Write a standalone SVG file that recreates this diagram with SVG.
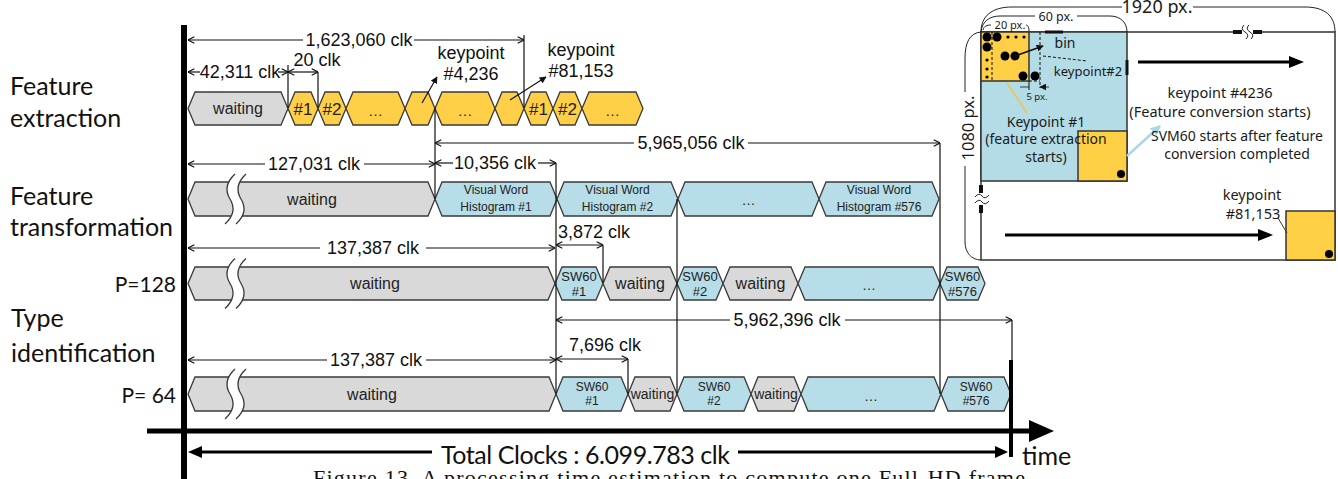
<svg xmlns="http://www.w3.org/2000/svg" width="1338" height="479" viewBox="0 0 1338 479">
<style>
.lbl{font-family:Lato,"Liberation Sans",sans-serif;font-size:25px;fill:#111}
.plb{font-family:Lato,"Liberation Sans",sans-serif;font-size:21px;fill:#111;text-anchor:end}
.dim{font-family:"Liberation Sans",Arial,sans-serif;font-size:18px;fill:#111;text-anchor:middle}
.ht{font-family:"Liberation Sans",Arial,sans-serif;fill:#222;text-anchor:middle}
.g{fill:#d9d9d9;stroke:#3a3a3a;stroke-width:1.3}
.y{fill:#ffcf48;stroke:#3a3a3a;stroke-width:1.3}
.b{fill:#b7dde8;stroke:#3a3a3a;stroke-width:1.3}
.dl{stroke:#111;stroke-width:1.2;fill:none}
.it{font-family:"Noto Sans","DejaVu Sans",sans-serif;fill:#1a1a1a;text-anchor:middle}
.arc{fill:none;stroke:#222;stroke-width:1}
</style>
<defs>
<marker id="oa" viewBox="0 0 10 10" refX="10" refY="5" markerWidth="7" markerHeight="8" orient="auto-start-reverse" markerUnits="userSpaceOnUse"><path d="M1,0.5 L10,5 L1,9.5" fill="none" stroke="#111" stroke-width="1.6"/></marker>
<marker id="fs" viewBox="0 0 10 10" refX="9" refY="5" markerWidth="7" markerHeight="7" orient="auto" markerUnits="userSpaceOnUse"><path d="M0,0 L10,5 L0,10 Z" fill="#111"/></marker>
<marker id="fb" viewBox="0 0 10 10" refX="9" refY="5" markerWidth="10" markerHeight="10" orient="auto" markerUnits="userSpaceOnUse"><path d="M0,0 L10,5 L0,10 Z" fill="#a8d8e8"/></marker>
<g id="brk">
<path d="M5,-25 Q-8,-13 0,0 Q8,13 -5,25 L6,25 Q19,13 11,0 Q3,-13 16,-25 Z" fill="#fff"/>
<path d="M5,-25 Q-8,-13 0,0 Q8,13 -5,25" fill="none" stroke="#3a3a3a" stroke-width="1.3"/>
<path d="M16,-25 Q3,-13 11,0 Q19,13 6,25" fill="none" stroke="#3a3a3a" stroke-width="1.3"/>
</g>
</defs>
<rect width="1338" height="479" fill="#fff"/>

<g id="labels">
<text class="lbl" x="10" y="95">Feature</text>
<text class="lbl" x="10" y="127">extraction</text>
<text class="lbl" x="10" y="205">Feature</text>
<text class="lbl" x="10" y="236">transformation</text>
<text class="plb" x="176" y="292">P=128</text>
<text class="lbl" x="11" y="327">Type</text>
<text class="lbl" x="11" y="362">identification</text>
<text class="plb" x="176" y="403">P= 64</text>
</g>

<g id="row1">
<g id="r1-wait"><polygon class="g" points="188,108.5 195,92 281,92 288,108.5 281,125 195,125"/><text class="ht" x="238" y="114" font-size="16">waiting</text></g>
<g id="r1-k1"><polygon class="y" points="288,108.5 295,92 311,92 318,108.5 311,125 295,125"/><text class="ht" x="303" y="115" font-size="17">#1</text></g>
<g id="r1-k2"><polygon class="y" points="318,108.5 325,92 339,92 346,108.5 339,125 325,125"/><text class="ht" x="332" y="115" font-size="17">#2</text></g>
<g id="r1-d1"><polygon class="y" points="346,108.5 353,92 398,92 405,108.5 398,125 353,125"/><text class="ht" x="375.5" y="116" font-size="15">…</text></g>
<g id="r1-k4236"><polygon class="y" points="405,108.5 412,92 428,92 435,108.5 428,125 412,125"/></g>
<g id="r1-d2"><polygon class="y" points="435,108.5 442,92 488,92 495,108.5 488,125 442,125"/><text class="ht" x="465" y="116" font-size="15">…</text></g>
<g id="r1-k81153"><polygon class="y" points="495,108.5 502,92 517,92 524,108.5 517,125 502,125"/></g>
<g id="r1-n1"><polygon class="y" points="524,108.5 531,92 546,92 553,108.5 546,125 531,125"/><text class="ht" x="538.5" y="115" font-size="17">#1</text></g>
<g id="r1-n2"><polygon class="y" points="553,108.5 560,92 575,92 582,108.5 575,125 560,125"/><text class="ht" x="567.5" y="115" font-size="17">#2</text></g>
<g id="r1-d3"><polygon class="y" points="582,108.5 589,92 636,92 643,108.5 636,125 589,125"/><text class="ht" x="612.5" y="116" font-size="15">…</text></g>
</g>

<g id="row2">
<g id="r2-wait"><polygon class="g" points="188,199 195,182 428,182 435,199 428,216 195,216"/><use href="#brk" x="230" y="199"/><text class="ht" x="312" y="205" font-size="16">waiting</text></g>
<g id="r2-h1"><polygon class="b" points="435,199 442,182 550,182 557,199 550,216 442,216"/><text class="ht" x="496" y="194" font-size="12">Visual Word</text><text class="ht" x="496" y="211" font-size="12">Histogram #1</text></g>
<g id="r2-h2"><polygon class="b" points="557,199 564,182 671,182 678,199 671,216 564,216"/><text class="ht" x="617.5" y="194" font-size="12">Visual Word</text><text class="ht" x="617.5" y="211" font-size="12">Histogram #2</text></g>
<g id="r2-d"><polygon class="b" points="678,199 685,182 812,182 819,199 812,216 685,216"/><text class="ht" x="748.5" y="205" font-size="14">…</text></g>
<g id="r2-h576"><polygon class="b" points="819,199 826,182 932,182 939,199 932,216 826,216"/><text class="ht" x="879" y="194" font-size="12">Visual Word</text><text class="ht" x="879" y="211" font-size="12">Histogram #576</text></g>
</g>

<g id="row3">
<g id="r3-wait"><polygon class="g" points="188,283.5 195,267 548,267 555,283.5 548,300 195,300"/><use href="#brk" x="230" y="283.5"/><text class="ht" x="375" y="289" font-size="16">waiting</text></g>
<g id="r3-s1"><polygon class="b" points="555,283.5 562,267 596,267 603,283.5 596,300 562,300"/><text class="ht" x="579" y="281" font-size="13">SW60</text><text class="ht" x="579" y="296" font-size="13">#1</text></g>
<g id="r3-w1"><polygon class="g" points="603,283.5 610,267 670,267 677,283.5 670,300 610,300"/><text class="ht" x="640" y="289" font-size="16">waiting</text></g>
<g id="r3-s2"><polygon class="b" points="677,283.5 684,267 716,267 723,283.5 716,300 684,300"/><text class="ht" x="700" y="281" font-size="13">SW60</text><text class="ht" x="700" y="296" font-size="13">#2</text></g>
<g id="r3-w2"><polygon class="g" points="723,283.5 730,267 791,267 798,283.5 791,300 730,300"/><text class="ht" x="760.5" y="289" font-size="16">waiting</text></g>
<g id="r3-d"><polygon class="b" points="798,283.5 805,267 933,267 940,283.5 933,300 805,300"/><text class="ht" x="869" y="290" font-size="14">…</text></g>
<g id="r3-s576"><polygon class="b" points="940,283.5 947,267 978,267 985,283.5 978,300 947,300"/><text class="ht" x="962.5" y="281" font-size="13">SW60</text><text class="ht" x="962.5" y="296" font-size="13">#576</text></g>
</g>

<g id="row4">
<g id="r4-wait"><polygon class="g" points="188,394 195,377 549,377 556,394 549,411 195,411"/><use href="#brk" x="230" y="394"/><text class="ht" x="372" y="400" font-size="16">waiting</text></g>
<g id="r4-s1"><polygon class="b" points="556,394 563,377 621,377 628,394 621,411 563,411"/><text class="ht" x="592" y="391" font-size="12">SW60</text><text class="ht" x="592" y="405" font-size="12">#1</text></g>
<g id="r4-w1"><polygon class="g" points="628,394 635,377 670,377 677,394 670,411 635,411"/><text class="ht" x="652.5" y="399" font-size="14">waiting</text></g>
<g id="r4-s2"><polygon class="b" points="677,394 684,377 744,377 751,394 744,411 684,411"/><text class="ht" x="714" y="391" font-size="12">SW60</text><text class="ht" x="714" y="405" font-size="12">#2</text></g>
<g id="r4-w2"><polygon class="g" points="751,394 758,377 794,377 801,394 794,411 758,411"/><text class="ht" x="776" y="399" font-size="14">waiting</text></g>
<g id="r4-d"><polygon class="b" points="801,394 808,377 934,377 941,394 934,411 808,411"/><text class="ht" x="871" y="401" font-size="14">…</text></g>
<g id="r4-s576"><polygon class="b" points="941,394 948,377 1004,377 1011,394 1004,411 948,411"/><text class="ht" x="976" y="391" font-size="12">SW60</text><text class="ht" x="976" y="405" font-size="12">#576</text></g>
</g>

<g id="connectors">
<path class="dl" d="M288,65 V108 M318,72 V108 M524,35 V108 M435,108 V199 M556,163 V394 M603,245 V283 M628,359 V394 M677,199 V394 M940,143 V394 M1012,320 V360"/>
<path class="dl" d="M188,40 H303" marker-start="url(#oa)"/><path class="dl" d="M414,40 H524" marker-end="url(#oa)"/>
<path class="dl" d="M188,72 H200" marker-start="url(#oa)"/><path class="dl" d="M278,72 H288" marker-end="url(#oa)"/>
<path class="dl" d="M288,72 H318" marker-start="url(#oa)" marker-end="url(#oa)"/>
<path class="dl" d="M188,164 H265" marker-start="url(#oa)"/><path class="dl" d="M364,164 H435" marker-end="url(#oa)"/>
<path class="dl" d="M435,163 H453" marker-start="url(#oa)"/><path class="dl" d="M538,163 H556" marker-end="url(#oa)"/>
<path class="dl" d="M435,143 H634" marker-start="url(#oa)"/><path class="dl" d="M748,143 H940" marker-end="url(#oa)"/>
<path class="dl" d="M188,248 H320" marker-start="url(#oa)"/><path class="dl" d="M426,248 H555" marker-end="url(#oa)"/>
<path class="dl" d="M556,245 H603" marker-start="url(#oa)" marker-end="url(#oa)"/>
<path class="dl" d="M556,320 H730" marker-start="url(#oa)"/><path class="dl" d="M845,320 H1012" marker-end="url(#oa)"/>
<path class="dl" d="M188,360 H327" marker-start="url(#oa)"/><path class="dl" d="M426,360 H556" marker-end="url(#oa)"/>
<path class="dl" d="M556,359 H628" marker-start="url(#oa)" marker-end="url(#oa)"/>
<path class="dl" d="M422,103 L437,77" marker-end="url(#fs)"/>
<path class="dl" d="M510,100 L546,77" marker-end="url(#fs)"/>
</g>

<g id="dimtexts">
<text class="dim" x="359" y="46">1,623,060 clk</text>
<text class="dim" x="240" y="78" font-size="17">42,311 clk</text>
<text class="dim" x="317" y="66" font-size="17">20 clk</text>
<text class="dim" x="471" y="59" font-size="16.5">keypoint</text>
<text class="dim" x="471" y="80" font-size="16.5">#4,236</text>
<text class="dim" x="581" y="56" font-size="16.5">keypoint</text>
<text class="dim" x="581" y="77" font-size="16.5">#81,153</text>
<text class="dim" x="314" y="170">127,031 clk</text>
<text class="dim" x="495" y="169" font-size="17">10,356 clk</text>
<text class="dim" x="691" y="149">5,965,056 clk</text>
<text class="dim" x="373" y="254">137,387 clk</text>
<text class="dim" x="558" y="238" font-size="17" style="text-anchor:start">3,872 clk</text>
<text class="dim" x="787" y="326">5,962,396 clk</text>
<text class="dim" x="376" y="366">137,387 clk</text>
<text class="dim" x="569" y="351" font-size="17" style="text-anchor:start">7,696 clk</text>
</g>

<g id="axes">
<rect x="181" y="25" width="6" height="454" fill="#000"/>
<line x1="147" y1="431" x2="1032" y2="431" stroke="#000" stroke-width="5"/>
<polygon points="1029,420 1054,431 1029,442" fill="#000"/>
<rect x="1009" y="360" width="4" height="97" fill="#000"/>
<text class="lbl" x="1022" y="465" font-size="24">time</text>
<line x1="200" y1="452" x2="432" y2="452" stroke="#000" stroke-width="3"/>
<polygon points="188,452 202,446 202,458" fill="#000"/>
<line x1="738" y1="452" x2="996" y2="452" stroke="#000" stroke-width="3"/>
<polygon points="1008,452 995,446 995,458" fill="#000"/>
<text class="lbl" x="441" y="464" font-size="24" textLength="289">Total Clocks : 6.099.783 clk</text>
<text x="313" y="485" font-family="Liberation Serif,serif" font-size="22" fill="#111" textLength="712">Figure 13. A processing time estimation to compute one Full-HD frame</text>
</g>

<g id="inset">
<rect x="981" y="32" width="354" height="228" fill="#fff" stroke="#333" stroke-width="1.5"/>
<rect x="981" y="32" width="146" height="149" fill="#b3dce6" stroke="#333" stroke-width="1.5"/>
<rect x="981" y="32" width="48" height="49" fill="#ffcf45" stroke="#333" stroke-width="1.5"/>
<rect x="1078" y="131" width="49" height="50" fill="#ffcf45" stroke="#333" stroke-width="1.5"/>
<rect x="1286" y="211" width="49" height="49" fill="#ffcf45" stroke="#333" stroke-width="1.5"/>
<rect x="1242" y="28" width="11" height="8" fill="#fff"/>
<path d="M1233,32 H1242 M1253,32 H1262" stroke="#111" stroke-width="4"/>
<path d="M1244,25 Q1240,29 1245,32 Q1250,35 1246,39 M1249,25 Q1245,29 1250,32 Q1255,35 1251,39" fill="none" stroke="#222" stroke-width="1"/>
<rect x="976" y="193" width="10" height="12" fill="#fff"/>
<path d="M981,185 V193 M981,205 V213" stroke="#111" stroke-width="4"/>
<path d="M975,197 Q979,192 982,196 Q985,200 989,195 M975,203 Q979,198 982,202 Q985,206 989,201" fill="none" stroke="#222" stroke-width="1"/>
<path d="M1127,60 V75 M1045,32 H1063" stroke="#111" stroke-width="3"/>
<g fill="#000">
<circle cx="987" cy="37" r="4.5"/><circle cx="997" cy="37" r="4.5"/><circle cx="987" cy="47" r="4.5"/>
<circle cx="1005" cy="56" r="4.5"/><circle cx="1015" cy="56" r="4.5"/>
<circle cx="1023" cy="76" r="4.5"/><circle cx="1035" cy="76" r="4.5"/>
<circle cx="1121" cy="174" r="4"/><circle cx="1329" cy="254" r="4"/>
<circle cx="1008" cy="37" r="1.6"/><circle cx="1016" cy="37" r="1.6"/><circle cx="1024" cy="37" r="1.6"/>
<circle cx="987" cy="60" r="1.6"/><circle cx="987" cy="69" r="1.6"/><circle cx="987" cy="77" r="1.6"/>
</g>
<path d="M992,32 V81 M1040,32 V88 M1029,81 H1040 M1043,56 L1087,61" fill="none" stroke="#111" stroke-width="1" stroke-dasharray="3,2"/>
<path d="M1029,81 V90" stroke="#111" stroke-width="1"/>
<path d="M1020,87 H1029 M1049,87 H1040" stroke="#111" stroke-width="0.8" marker-end="url(#fs)"/>
<path d="M1015,56 L1043,46" stroke="#111" stroke-width="1.5" marker-end="url(#fs)"/>
<path d="M1007,83 L1027,113" stroke="#f5c242" stroke-width="1.5"/>
<path d="M1127,156 L1160,126" stroke="#a8d8e8" stroke-width="2.5" marker-end="url(#fb)"/>
<path d="M1278,218 L1287,233" stroke="#333" stroke-width="1"/>
<line x1="1138" y1="62" x2="1291" y2="62" stroke="#000" stroke-width="3"/>
<polygon points="1289,56 1304,62 1289,68" fill="#000"/>
<line x1="1005" y1="235" x2="1260" y2="235" stroke="#000" stroke-width="3"/>
<polygon points="1258,229 1273,235 1258,241" fill="#000"/>
<path class="arc" d="M981,32 C981,16 992,7 1012,7 H1122 M1193,7 H1305 C1325,7 1335,16 1335,32"/>
<path class="arc" d="M981,32 C982,21 990,16 1000,16 H1035 M1077,16 H1110 C1121,16 1127,23 1127,32"/>
<path class="arc" d="M983,30 C984,26 987,25 991,25 M1026,25 C1028,25 1029,28 1029,31"/>
<path class="arc" d="M981,32 C970,33 965,42 965,58 V92 M965,166 V242 C965,252 971,260 981,260"/>
<text class="it" x="1157" y="13" font-size="18">1920 px.</text>
<text class="it" x="1056" y="21" font-size="12.5">60 px.</text>
<text class="it" x="1010" y="29" font-size="11">20 px.</text>
<text class="it" transform="translate(974,128) rotate(-90)" font-size="16.5">1080 px.</text>
<text class="it" x="1065" y="48" font-size="14">bin</text>
<text class="it" x="1088" y="76" font-size="13">keypoint#2</text>
<text class="it" x="1037" y="100" font-size="9.5">5 px.</text>
<text class="it" x="1046" y="127" font-size="14">Keypoint #1</text>
<text class="it" x="1046" y="144" font-size="14">(feature extraction</text>
<text class="it" x="1046" y="162" font-size="14">starts)</text>
<text class="it" x="1220" y="98" font-size="14.5">keypoint #4236</text>
<text class="it" x="1220" y="117" font-size="14.5">(Feature conversion starts)</text>
<text class="it" x="1237" y="141" font-size="14">SVM60 starts after feature</text>
<text class="it" x="1237" y="159" font-size="14">conversion completed</text>
<text class="it" x="1252" y="200" font-size="14.5">keypoint</text>
<text class="it" x="1253" y="219" font-size="14.5">#81,153</text>
</g>
</svg>
